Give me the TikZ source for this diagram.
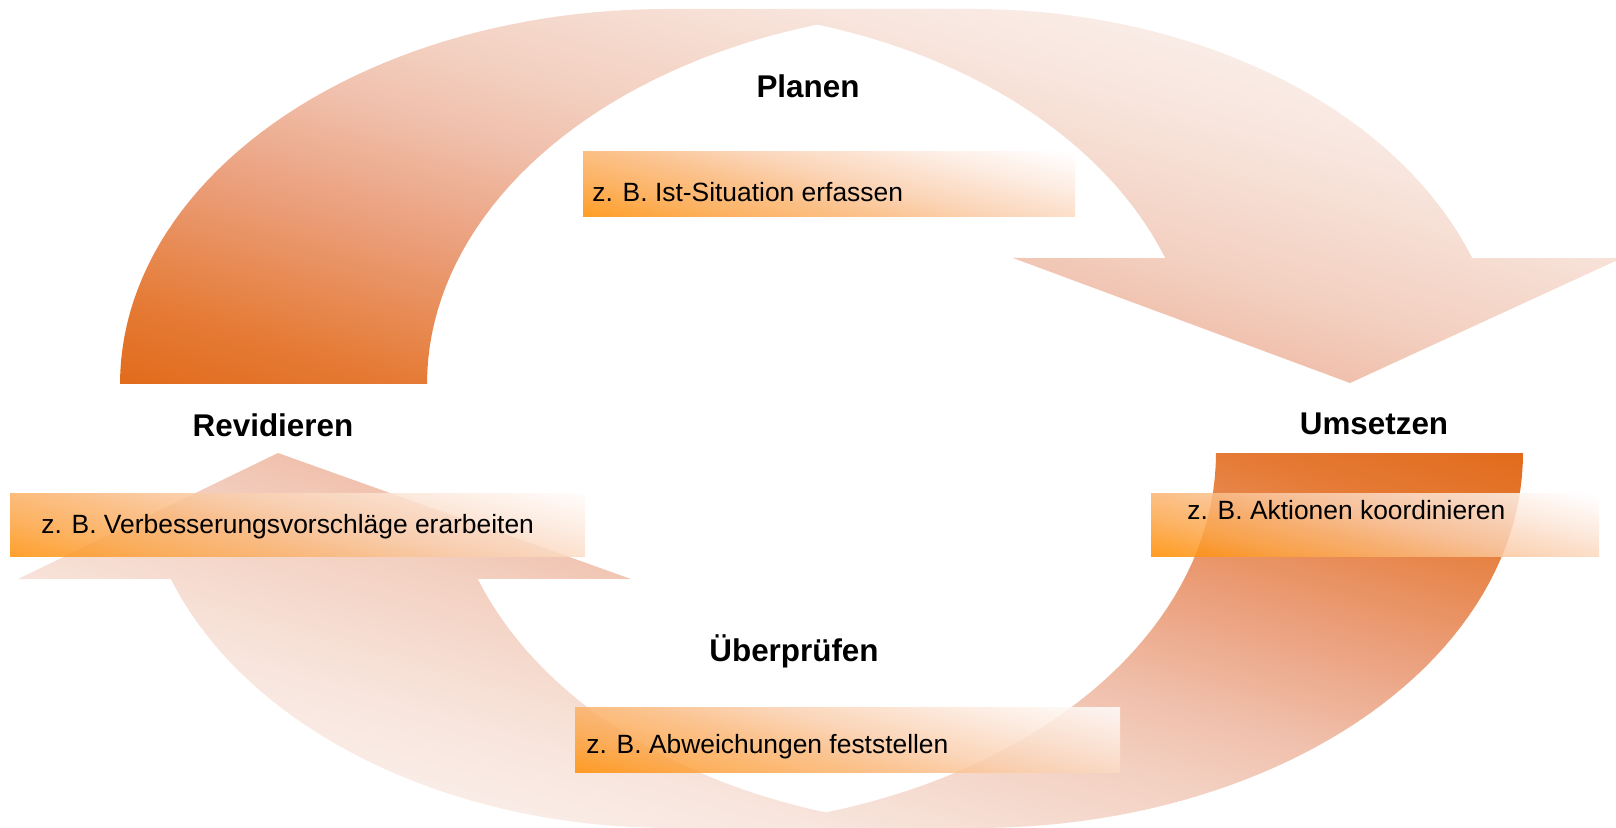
\documentclass[tikz,border=0pt]{standalone}
\usepackage{fontspec}
\setmainfont{Liberation Sans}
\pgfdeclarehorizontalshading{arrowshade}{100bp}{%
 rgb(0bp)=(0.886,0.424,0.118); rgb(38.1bp)=(0.886,0.424,0.118);
 rgb(40.4bp)=(0.898,0.478,0.204); rgb(45bp)=(0.922,0.627,0.490);
 rgb(48.5bp)=(0.941,0.753,0.675); rgb(50.8bp)=(0.953,0.816,0.757);
 rgb(55.4bp)=(0.973,0.902,0.871); rgb(58.9bp)=(0.980,0.941,0.922);
 rgb(61.2bp)=(0.984,0.957,0.941); rgb(100bp)=(0.984,0.957,0.941)}
\pgfdeclarehorizontalshading{boxshade}{100bp}{%
 rgb(0bp)=(1,0.549,0); rgb(40.8bp)=(1,0.549,0);
 rgb(44.5bp)=(0.988,0.647,0.275); rgb(48.2bp)=(0.980,0.725,0.490);
 rgb(50.9bp)=(0.980,0.804,0.667); rgb(54.6bp)=(0.988,0.894,0.831);
 rgb(58.3bp)=(1,0.980,0.973); rgb(59.2bp)=(1,1,1); rgb(100bp)=(1,1,1)}
\tikzset{
 arrowband/.style={shading=arrowshade},
 boxfill/.style={shading=boxshade, shading angle=76, fill opacity=0.85},
 phase/.style={font=\fontsize{15.7pt}{18pt}\selectfont\bfseries, inner sep=0pt, anchor=base},
 example/.style={font=\fontsize{13.2pt}{16pt}\selectfont, inner sep=0pt, anchor=base west}
}
\newcommand\exbox[4]{%
 \pgfmathsetmacro\bxc{(#1+#3)/2}\pgfmathsetmacro\byc{(#2+#4)/2}\pgfmathsetmacro\bxh{(#3-#1)/2}%
 \begin{scope}
 \clip (#1,#2) rectangle (#3,#4);
 \shade[boxfill] ({\bxc-\bxh},{\byc-\bxh}) rectangle ({\bxc+\bxh},{\byc+\bxh});
 \end{scope}}
\begin{document}
\begin{tikzpicture}[x=0.5pt, y=-0.5pt]
\useasboundingbox (0,0) rectangle (1616,828);
\clip (0,0) rectangle (1616,828);
% top arrow (Revidieren -> Umsetzen)
\begin{scope}
\clip
 plot[domain=180:90, samples=50] ({666+546*cos(\x)},{384-375*sin(\x)})
 -- (973,9)
 -- plot[domain=90:19.63, samples=40] ({973+530*cos(\x)},{384-375*sin(\x)})
 -- (1622,258) -- (1350,383) -- (1013,258)
 -- plot[domain=19.63:73.42, samples=40] ({666+530*cos(\x)},{384-375*sin(\x)})
 -- plot[domain=106.58:180, samples=40] ({973+546*cos(\x)},{384-375*sin(\x)})
 -- cycle;
\shade[arrowband, shading angle=74] (68,-604) rectangle (1668,996);
\end{scope}
% bottom arrow (Umsetzen -> Revidieren)
\begin{scope}
\clip
 plot[domain=0:90, samples=50] ({977+546*cos(\x)},{453+375*sin(\x)})
 -- (670,828)
 -- plot[domain=90:160.37, samples=40] ({670+530*cos(\x)},{453+375*sin(\x)})
 -- (18,579) -- (278,453) -- (631,579)
 -- plot[domain=160.37:106.58, samples=40] ({977+530*cos(\x)},{453+375*sin(\x)})
 -- plot[domain=73.42:0, samples=40] ({670+546*cos(\x)},{453+375*sin(\x)})
 -- cycle;
\shade[arrowband, shading angle=254] (-25,-159) rectangle (1575,1441);
\end{scope}
% example boxes
\exbox{583}{152}{1075}{217}
\exbox{10}{493}{585}{556}
\exbox{1151}{493}{1599}{556}
\exbox{575}{707}{1120}{772}
% texts
\node[phase] (planen) at (808,98) {Planen};
\node[phase] (umsetzen) at (1374,434) {Umsetzen};
\node[phase] (pruefen) at (794,661) {Überprüfen};
\node[phase] (revidieren) at (273,437) {Revidieren};
\node[example] (ex1) at (592,202) {z. B. Ist-Situation erfassen};
\node[example] (ex2) at (1187,519) {z. B. Aktionen koordinieren};
\node[example] (ex3) at (586,753) {z. B. Abweichungen feststellen};
\node[example] (ex4) at (41,533) {z. B. Verbesserungsvorschläge erarbeiten};
\end{tikzpicture}
\end{document}
